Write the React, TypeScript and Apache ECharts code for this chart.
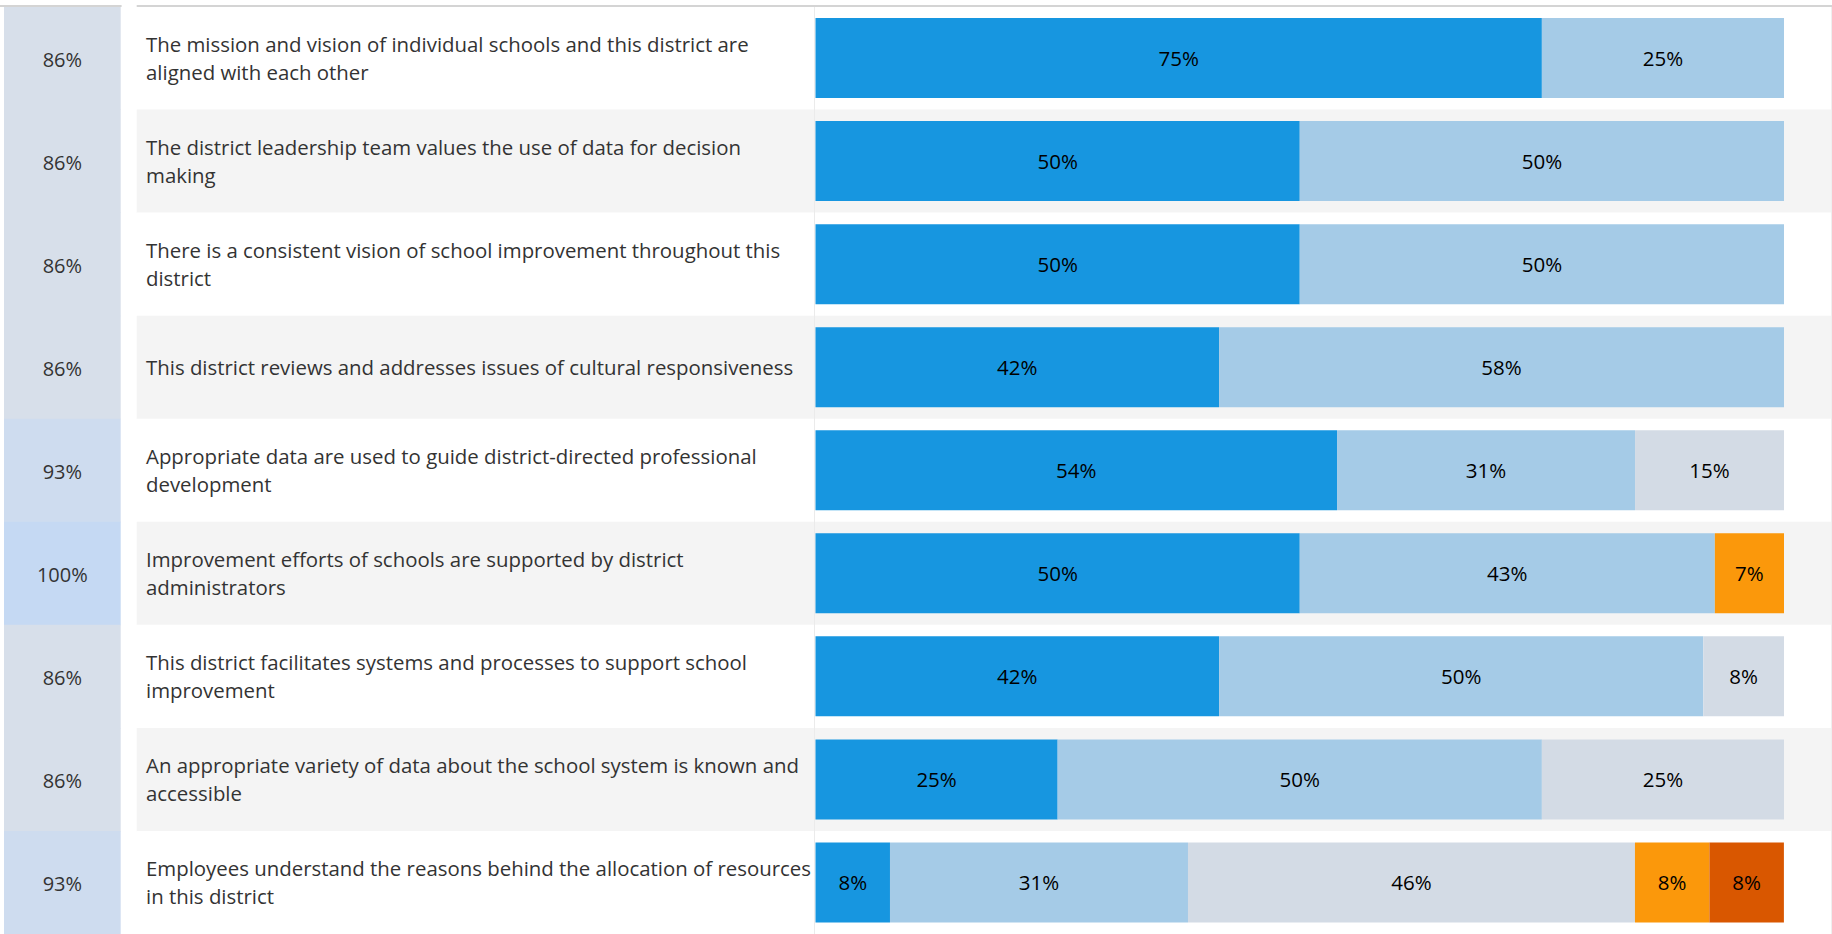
import React, { useEffect, useRef } from 'react';
import * as echarts from 'echarts';

// Survey statements (line breaks as laid out in the text column)
const statements = [
  'The mission and vision of individual schools and this district are\naligned with each other',
  'The district leadership team values the use of data for decision\nmaking',
  'There is a consistent vision of school improvement throughout this\ndistrict',
  'This district reviews and addresses issues of cultural responsiveness',
  'Appropriate data are used to guide district-directed professional\ndevelopment',
  'Improvement efforts of schools are supported by district\nadministrators',
  'This district facilitates systems and processes to support school\nimprovement',
  'An appropriate variety of data about the school system is known and\naccessible',
  'Employees understand the reasons behind the allocation of resources\nin this district',
];

// Overall score per statement (left column)
const overallScore = [86, 86, 86, 86, 93, 100, 86, 86, 93];

// Response shares per statement, in percent
const stronglyAgree = [75, 50, 50, 41.67, 53.85, 50, 41.67, 25, 7.69];
const agree = [25, 50, 50, 58.33, 30.77, 42.86, 50, 50, 30.77];
const neutral = [0, 0, 0, 0, 15.38, 0, 8.33, 25, 46.15];
const disagree = [0, 0, 0, 0, 0, 7.14, 0, 0, 7.69];
const stronglyDisagree = [0, 0, 0, 0, 0, 0, 0, 0, 7.69];

const responseSeries = [
  { name: 'Strongly agree', values: stronglyAgree, color: '#1796e0' },
  { name: 'Agree', values: agree, color: '#a5cbe7' },
  { name: 'Neutral', values: neutral, color: '#d3dbe5' },
  { name: 'Disagree', values: disagree, color: '#fb980b' },
  { name: 'Strongly disagree', values: stronglyDisagree, color: '#d95700' },
];

const FONT = '"Open Sans", "Noto Sans", sans-serif';
const TOP = 6.5;
const ROWS_H = 929;

// Blend the score cell colour from low (86) to high (100)
function scoreColor(score: number): string {
  const lo = [0xd7, 0xdf, 0xea];
  const hi = [0xc5, 0xd9, 0xf3];
  const t = Math.max(0, Math.min(1, (score - 86) / 14));
  const c = lo.map((v, i) => Math.round(v + (hi[i] - v) * t));
  return `rgb(${c[0]},${c[1]},${c[2]})`;
}

export default function App() {
  const ref = useRef<HTMLDivElement>(null);

  useEffect(() => {
    if (!ref.current) return;
    const chart = echarts.init(ref.current, undefined, { renderer: 'svg' });

    const hiddenCat = (gridIndex: number, extra: any = {}) => ({
      type: 'category',
      gridIndex,
      data: statements,
      inverse: true,
      axisLine: { show: false },
      axisTick: { show: false },
      axisLabel: { show: false },
      splitLine: { show: false },
      ...extra,
    });
    const hiddenVal = (gridIndex: number, max: number) => ({
      type: 'value',
      gridIndex,
      min: 0,
      max,
      show: false,
    });

    chart.setOption({
      animation: false,
      backgroundColor: '#ffffff',
      grid: [
        // row bands across text column and bars
        { left: 136.7, right: 0, top: TOP, height: ROWS_H },
        // score column
        { left: 4, width: 116.7, top: TOP, height: ROWS_H },
        // stacked bars
        { left: 815.5, width: 968.5, top: TOP, height: ROWS_H },
      ],
      xAxis: [hiddenVal(0, 1), hiddenVal(1, 1), hiddenVal(2, 100)],
      yAxis: [
        hiddenCat(0),
        hiddenCat(1),
        hiddenCat(2, {
          z: 10,
          axisLabel: {
            show: true,
            interval: 0,
            align: 'left',
            margin: 669.5,
            fontFamily: FONT,
            fontSize: 20.4,
            lineHeight: 28,
            color: '#333333',
          },
        }),
      ],
      series: [
        {
          type: 'custom',
          xAxisIndex: 0,
          yAxisIndex: 0,
          z: 0,
          silent: true,
          encode: { x: 0, y: 1 },
          data: statements.map((_, i) => [0, i]),
          renderItem: (params: any, api: any) => {
            const idx = api.value(1);
            const a = api.coord([0, idx]);
            const b = api.coord([1, idx]);
            const h = api.size([0, 1])[1];
            return {
              type: 'rect',
              shape: { x: a[0], y: a[1] - h / 2, width: b[0] - a[0], height: h + 0.5 },
              style: { fill: idx % 2 === 1 ? '#f4f4f4' : '#ffffff' },
            };
          },
        },
        {
          type: 'custom',
          xAxisIndex: 1,
          yAxisIndex: 1,
          z: 1,
          silent: true,
          encode: { x: 0, y: 1 },
          data: overallScore.map((s, i) => [0, i, s]),
          renderItem: (params: any, api: any) => {
            const idx = api.value(1);
            const score = api.value(2);
            const a = api.coord([0, idx]);
            const b = api.coord([1, idx]);
            const h = api.size([0, 1])[1];
            return {
              type: 'group',
              children: [
                {
                  type: 'rect',
                  shape: { x: a[0], y: a[1] - h / 2, width: b[0] - a[0], height: h + 0.5 },
                  style: { fill: scoreColor(score) },
                },
                {
                  type: 'text',
                  x: (a[0] + b[0]) / 2,
                  y: a[1] + 1,
                  style: {
                    text: `${score}%`,
                    fill: '#333333',
                    fontFamily: FONT,
                    fontSize: 20,
                    align: 'center',
                    verticalAlign: 'middle',
                  },
                },
              ],
            };
          },
        },
        ...responseSeries.map((s) => ({
          type: 'bar',
          name: s.name,
          xAxisIndex: 2,
          yAxisIndex: 2,
          stack: 'responses',
          barWidth: 80,
          z: 3,
          itemStyle: { color: s.color },
          label: {
            show: true,
            position: 'inside',
            color: '#000000',
            fontFamily: FONT,
            fontSize: 20.5,
            formatter: (p: any) => (p.value > 0 ? `${Math.round(p.value)}%` : ''),
          },
          data: s.values,
        })),
      ],
      graphic: [
        { type: 'rect', z: 100, shape: { x: 0, y: 5, width: 121.6, height: 2 }, style: { fill: '#d4d4d4' } },
        { type: 'rect', z: 100, shape: { x: 136.7, y: 5, width: 1695.3, height: 2 }, style: { fill: '#d4d4d4' } },
        { type: 'rect', z: 100, shape: { x: 814, y: 7, width: 1, height: 927 }, style: { fill: '#ebebeb' } },
        { type: 'rect', z: 100, shape: { x: 1831, y: 7, width: 1, height: 927 }, style: { fill: '#efefef' } },
      ],
    });

    return () => chart.dispose();
  }, []);

  return (
    <div
      ref={ref}
      style={{ position: 'absolute', left: 0, top: 0, width: 1832, height: 934 }}
    />
  );
}
